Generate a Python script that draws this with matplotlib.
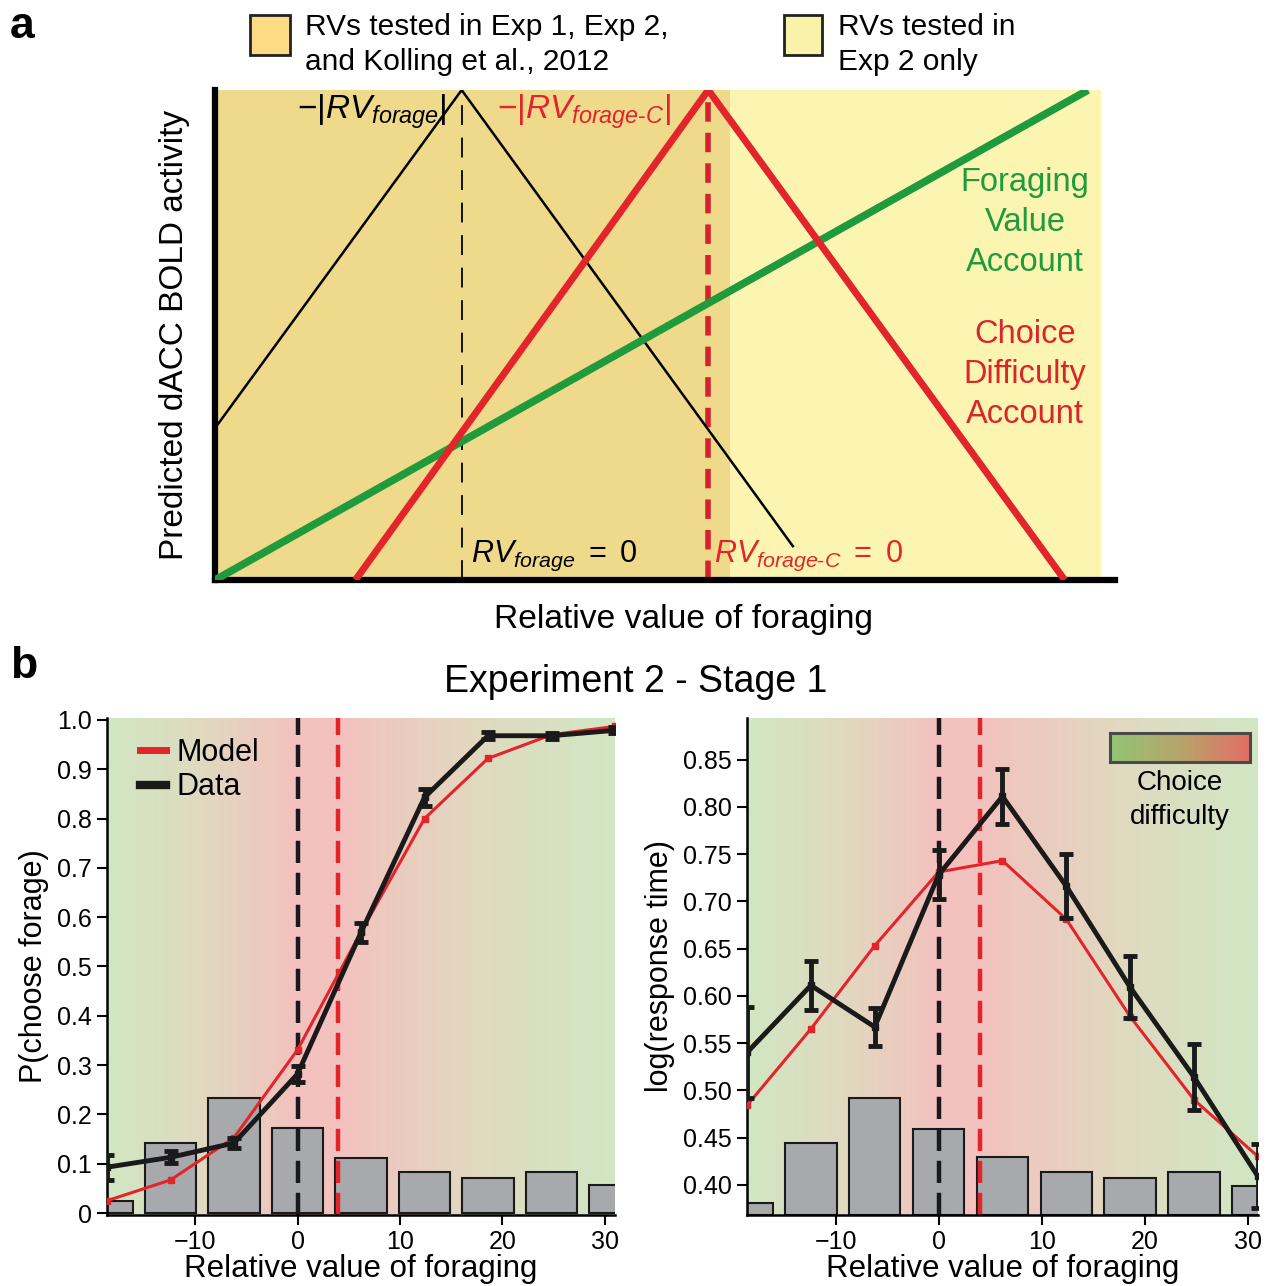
import numpy as np
import matplotlib
matplotlib.use('Agg')
import matplotlib.pyplot as plt
from matplotlib.colors import LinearSegmentedColormap
from matplotlib.patches import Rectangle
from matplotlib.lines import Line2D

plt.rcParams['font.family'] = ['Liberation Sans', 'DejaVu Sans']
plt.rcParams['mathtext.fontset'] = 'custom'
plt.rcParams['mathtext.rm'] = 'Liberation Sans'
plt.rcParams['mathtext.it'] = 'Liberation Sans:italic'

RED = '#e3242b'
GREEN = '#1f9a3c'

# ---- panel a: schematic predictions (arbitrary units 0-100)
tested_all = (0, 57.2)      # RVs tested in Exp 1, Exp 2, Kolling 2012
tested_exp2 = (57.2, 98.4)  # RVs tested in Exp 2 only
absrv_x = [0, 27.4, 64.2]
absrv_y = [31, 100, 6.9]
absrvc_x = [15.6, 54.8, 94.4]
absrvc_y = [0, 100, 0]
fva_x = [0, 97]
fva_y = [0, 100]
rv_zero = 27.4
rvc_zero = 54.8

# ---- panel b: Experiment 2 - Stage 1
rv_bins = [-18.6, -12.4, -6.2, 0, 6.2, 12.4, 18.6, 24.8, 31.0]
p_data = [0.093, 0.113, 0.142, 0.282, 0.569, 0.843, 0.968, 0.968, 0.979]
p_err = [0.025, 0.012, 0.010, 0.016, 0.020, 0.017, 0.007, 0.006, 0.006]
p_model = [0.025, 0.067, 0.153, 0.331, 0.570, 0.800, 0.922, 0.970, 0.987]
rt_data = [0.540, 0.611, 0.567, 0.728, 0.811, 0.716, 0.609, 0.514, 0.409]
rt_err = [0.048, 0.026, 0.020, 0.026, 0.029, 0.034, 0.033, 0.035, 0.034]
rt_model = [0.484, 0.565, 0.653, 0.731, 0.743, 0.681, 0.578, 0.490, 0.430]
hist_p = [0.025, 0.142, 0.233, 0.172, 0.112, 0.083, 0.071, 0.083, 0.057]
hist_rt = [0.381, 0.444, 0.492, 0.459, 0.429, 0.414, 0.407, 0.414, 0.399]
indiff_data = 0
indiff_model = 4
# difficulty shading anchors
diff_x = [-18.6, 0, 4, 31.0]
diff_v = [0, 1, 1, 0]

xlim_b = (-18.6, 31.0)
ylim_p = (-0.004, 1.004)
ylim_rt = (0.368, 0.894)

cmap = LinearSegmentedColormap.from_list('diff', ['#8cc36c', '#b3a062', '#e2665d'])

fig = plt.figure(figsize=(12.77, 12.86), dpi=100)

# ================= panel a
ax = fig.add_axes([0.1684, 0.549, 0.7048, 0.381])
ax.set_xlim(0, 100)
ax.set_ylim(0, 100)
ax.axvspan(*tested_all, color='#efd98b', lw=0, zorder=0)
ax.axvspan(*tested_exp2, color='#fbf5b1', lw=0, zorder=0)
ax.axvline(rv_zero, color='black', lw=1.3, dashes=(11, 7), zorder=2)
ax.axvline(rvc_zero, color='#d4222e', lw=4, dashes=(3.5, 2), zorder=2)
ax.plot(absrv_x, absrv_y, color='black', lw=1.8, zorder=3)
ax.plot(fva_x, fva_y, color=GREEN, lw=5.5, zorder=3, solid_capstyle='butt')
ax.plot(absrvc_x, absrvc_y, color=RED, lw=5, zorder=4, solid_capstyle='butt')
for s in ['top', 'right']:
    ax.spines[s].set_visible(False)
for s in ['left', 'bottom']:
    ax.spines[s].set_linewidth(4.5)
ax.set_xticks([])
ax.set_yticks([])

ax.text(17.4, 95.5, r'$\mathrm{-|}RV_{forage}\mathrm{|}$', fontsize=24,
        ha='center', va='center')
ax.text(41.0, 95.5, r'$\mathrm{-|}RV_{forage\text{-}C}\mathrm{|}$', fontsize=24,
        ha='center', va='center', color=RED)
ax.text(28.4, 5.0, r'$RV_{forage}\mathrm{\ =\ 0}$', fontsize=22,
        ha='left', va='center')
ax.text(55.4, 5.0, r'$RV_{forage\text{-}C}\mathrm{\ =\ 0}$', fontsize=22,
        ha='left', va='center', color=RED)
ax.text(90, 73, 'Foraging\nValue\nAccount', fontsize=23.5, color=GREEN,
        ha='center', va='center', linespacing=1.38)
ax.text(90, 42, 'Choice\nDifficulty\nAccount', fontsize=23.5, color='#d8262b',
        ha='center', va='center', linespacing=1.38)

fig.text(0.535, 0.5179, 'Relative value of foraging', fontsize=24.2,
         ha='center', va='center')
fig.text(0.137, 0.7395, 'Predicted dACC BOLD activity', fontsize=24,
         ha='center', va='center', rotation=90)

fig.add_artist(Rectangle((0.1958, 0.9572), 0.0313, 0.0311, transform=fig.transFigure,
                         facecolor='#fcdb84', edgecolor='#222222', lw=2))
fig.add_artist(Rectangle((0.614, 0.9572), 0.0298, 0.0311, transform=fig.transFigure,
                         facecolor='#f9f3a9', edgecolor='#222222', lw=2))
fig.text(0.2388, 0.9655, 'RVs tested in Exp 1, Exp 2,\nand Kolling et al., 2012',
         fontsize=21.5, ha='left', va='center', linespacing=1.3)
fig.text(0.6562, 0.9655, 'RVs tested in\nExp 2 only',
         fontsize=21.5, ha='left', va='center', linespacing=1.3)

fig.text(0.008, 0.995, 'a', fontsize=32, fontweight='bold', va='top')
fig.text(0.008, 0.498, 'b', fontsize=32, fontweight='bold', va='top')
fig.text(0.498, 0.4697, 'Experiment 2 - Stage 1', fontsize=27,
         ha='center', va='center')


# ================= panel b
def shade(ax, ylim):
    xs = np.linspace(xlim_b[0], xlim_b[1], 500)
    d = np.interp(xs, diff_x, diff_v)
    ax.imshow(d[None, :], extent=(xlim_b[0], xlim_b[1], ylim[0], ylim[1]),
              aspect='auto', cmap=cmap, alpha=0.4, vmin=0, vmax=1, zorder=0)


def style(ax):
    for s in ['top', 'right']:
        ax.spines[s].set_visible(False)
    ax.spines['left'].set_linewidth(1.8)
    ax.spines['bottom'].set_linewidth(1.8)
    ax.tick_params(labelsize=18, width=1.5, length=7, pad=4)
    ax.set_xticks([-10, 0, 10, 20, 30])
    ax.set_xlim(*xlim_b)


axl = fig.add_axes([0.0838, 0.0552, 0.3978, 0.3865])
shade(axl, ylim_p)
axl.bar(rv_bins, hist_p, width=5.0, color='#a7a9ac', edgecolor='#1a1a1a',
        lw=1.5, zorder=1)
axl.axvline(indiff_data, color='#1a1a1a', lw=3.2, dashes=(5, 2.2), zorder=2)
axl.axvline(indiff_model, color=RED, lw=3.2, dashes=(5, 2.2), zorder=2)
axl.plot(rv_bins, p_model, color=RED, lw=2.2, marker='s', ms=4.5, zorder=3)
axl.errorbar(rv_bins, p_data, yerr=p_err, color='#1a1a1a', lw=3.5,
             elinewidth=3.5, capsize=5, capthick=3.5, marker='s', ms=4, zorder=4)
axl.set_ylim(*ylim_p)
axl.set_yticks(np.arange(0, 1.01, 0.1))
axl.set_yticklabels(['0', '0.1', '0.2', '0.3', '0.4', '0.5', '0.6', '0.7',
                     '0.8', '0.9', '1.0'])
style(axl)
axl.set_xlabel('Relative value of foraging', fontsize=22.5, labelpad=0)
axl.set_ylabel('P(choose forage)', fontsize=22, labelpad=6)
handles = [Line2D([], [], color=RED, lw=5), Line2D([], [], color='#1a1a1a', lw=6)]
axl.legend(handles, ['Model', 'Data'], loc='upper left', frameon=False,
           fontsize=22, handlelength=0.85, handletextpad=0.35, labelspacing=0.15,
           borderaxespad=0.0, bbox_to_anchor=(0.04, 0.985))

axr = fig.add_axes([0.585, 0.0552, 0.4, 0.3865])
shade(axr, ylim_rt)
axr.bar(rv_bins, np.array(hist_rt) - ylim_rt[0], bottom=ylim_rt[0], width=5.0,
        color='#a7a9ac', edgecolor='#1a1a1a', lw=1.5, zorder=1)
axr.axvline(indiff_data, color='#1a1a1a', lw=3.2, dashes=(5, 2.2), zorder=2)
axr.axvline(indiff_model, color=RED, lw=3.2, dashes=(5, 2.2), zorder=2)
axr.plot(rv_bins, rt_model, color=RED, lw=2.2, marker='s', ms=4.5, zorder=3)
axr.errorbar(rv_bins, rt_data, yerr=rt_err, color='#1a1a1a', lw=3.5,
             elinewidth=3.5, capsize=5, capthick=3.5, marker='s', ms=4, zorder=4)
axr.set_ylim(*ylim_rt)
axr.set_yticks(np.arange(0.40, 0.851, 0.05))
axr.set_yticklabels(['%.2f' % v for v in np.arange(0.40, 0.851, 0.05)])
style(axr)
axr.set_xlabel('Relative value of foraging', fontsize=22.5, labelpad=0)
axr.set_ylabel('log(response time)', fontsize=22, labelpad=6)

cax = fig.add_axes([0.869, 0.4075, 0.110, 0.0226])
cax.imshow(np.linspace(0, 1, 256)[None, :], aspect='auto', cmap=cmap, alpha=0.95)
cax.set_xticks([])
cax.set_yticks([])
for s in cax.spines.values():
    s.set_linewidth(2.2)
    s.set_edgecolor('#4a4a4a')
fig.text(0.924, 0.378, 'Choice\ndifficulty', fontsize=20, ha='center',
         va='center', linespacing=1.4)

fig.savefig('out.png', dpi=100)
